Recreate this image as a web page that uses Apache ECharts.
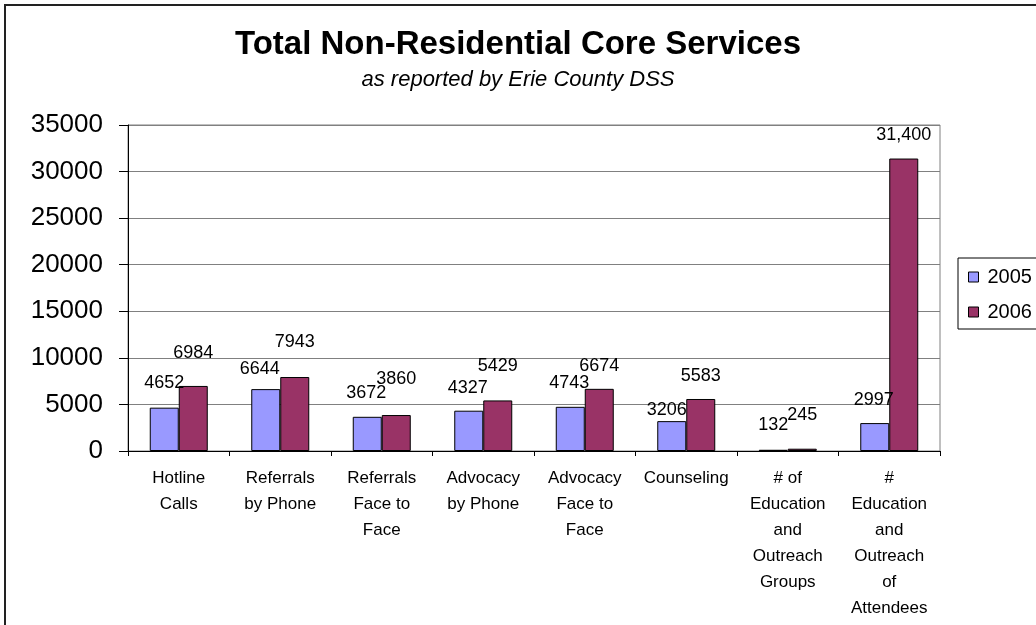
<!DOCTYPE html>
<html>
<head>
<meta charset="utf-8">
<script src="https://cdn.jsdelivr.net/npm/echarts@6/dist/echarts.min.js"></script>
<style>
html,body{margin:0;padding:0;background:#fff;}
#chart{width:1036px;height:625px;}
</style>
</head>
<body>
<div id="chart"></div>
<script>
const categories = [
  'Hotline\nCalls',
  'Referrals\nby Phone',
  'Referrals\nFace to\nFace',
  'Advocacy\nby Phone',
  'Advocacy\nFace to\nFace',
  'Counseling',
  '# of\nEducation\nand\nOutreach\nGroups',
  '#\nEducation\nand\nOutreach\nof\nAttendees'
];
const values2005 = [4652, 6644, 3672, 4327, 4743, 3206, 132, 2997];
const values2006 = [6984, 7943, 3860, 5429, 6674, 5583, 245, 31400];
const seriesNames = ['2005', '2006'];
const yTicks = { min: 0, max: 35000, interval: 5000 };

// label placement tweaks (as the reference positions its labels)
const lift2005 = [16, 11, 14.5, 13.5, 15, 2, 16, 14];
const shift2005 = [0, -6, -1, -1, -1, -5, 0, -1];
const lift2006 = [24, 25.5, 27, 25.5, 14, 14, 25, 14.5];

const FONT = "'Liberation Sans', Arial, sans-serif";

function fmt(v) {
  return v >= 10000 ? v.toLocaleString('en-US') : String(v);
}

function buildData(vals, lifts, shifts) {
  return vals.map((v, i) => ({
    value: v,
    label: { distance: lifts[i], offset: [shifts ? shifts[i] : 0, 0] }
  }));
}

const chart = echarts.init(document.getElementById('chart'), null, { renderer: 'canvas' });
chart.setOption({
  backgroundColor: '#fff',
  animation: false,
  textStyle: { fontFamily: FONT },
  title: {
    text: 'Total Non-Residential Core Services',
    subtext: 'as reported by Erie County DSS',
    left: 'center',
    top: 28,
    itemGap: 8,
    padding: 0,
    textStyle: { fontFamily: FONT, fontSize: 33, fontWeight: 'bold', color: '#000' },
    subtextStyle: { fontFamily: FONT, fontSize: 22, fontStyle: 'italic', color: '#000' }
  },
  legend: {
    orient: 'vertical',
    left: 958,
    top: 258,
    padding: [9, 20, 7, 10],
    itemGap: 15,
    itemWidth: 10,
    itemHeight: 10,
    borderColor: '#000',
    borderWidth: 1,
    icon: 'rect',
    itemStyle: { borderColor: '#000', borderWidth: 1 },
    textStyle: { fontFamily: FONT, fontSize: 20, color: '#000', padding: [0, 0, 0, 4] },
    data: seriesNames
  },
  grid: {
    left: 128,
    right: 96,
    top: 125,
    bottom: 174,
    show: true,
    borderColor: '#808080',
    borderWidth: 1,
    backgroundColor: 'transparent'
  },
  xAxis: {
    type: 'category',
    data: categories,
    axisLine: { lineStyle: { color: '#000', width: 1 } },
    axisTick: { show: true, length: 5, lineStyle: { color: '#000' } },
    axisLabel: {
      interval: 0,
      margin: 14,
      fontFamily: FONT,
      fontSize: 17,
      lineHeight: 26,
      color: '#000'
    }
  },
  yAxis: {
    type: 'value',
    min: yTicks.min,
    max: yTicks.max,
    interval: yTicks.interval,
    axisLine: { show: true, lineStyle: { color: '#000', width: 1 } },
    axisTick: { show: true, inside: false, length: 9, lineStyle: { color: '#000' } },
    axisLabel: {
      margin: 25, fontFamily: FONT, fontSize: 26, color: '#000',
      formatter: v => String(v)
    },
    splitLine: { show: true, lineStyle: { color: '#808080', width: 1 } }
  },
  series: [
    {
      name: seriesNames[0],
      type: 'bar',
      barWidth: 29,
      barGap: '0%',
      itemStyle: { color: '#9999FF', borderColor: '#000', borderWidth: 1 },
      label: {
        show: true, position: 'top', fontFamily: FONT, fontSize: 18, color: '#000',
        formatter: p => fmt(p.value)
      },
      data: buildData(values2005, lift2005, shift2005)
    },
    {
      name: seriesNames[1],
      type: 'bar',
      barWidth: 29,
      barGap: '0%',
      itemStyle: { color: '#993366', borderColor: '#000', borderWidth: 1 },
      label: {
        show: true, position: 'top', fontFamily: FONT, fontSize: 18, color: '#000',
        formatter: p => fmt(p.value)
      },
      data: buildData(values2006, lift2006, null)
    }
  ],
  graphic: [
    {
      type: 'rect',
      silent: true,
      z: -1,
      shape: { x: 5, y: 5, width: 1100, height: 700 },
      style: { fill: 'none', stroke: '#222', lineWidth: 2 }
    }
  ]
});
</script>
</body>
</html>
